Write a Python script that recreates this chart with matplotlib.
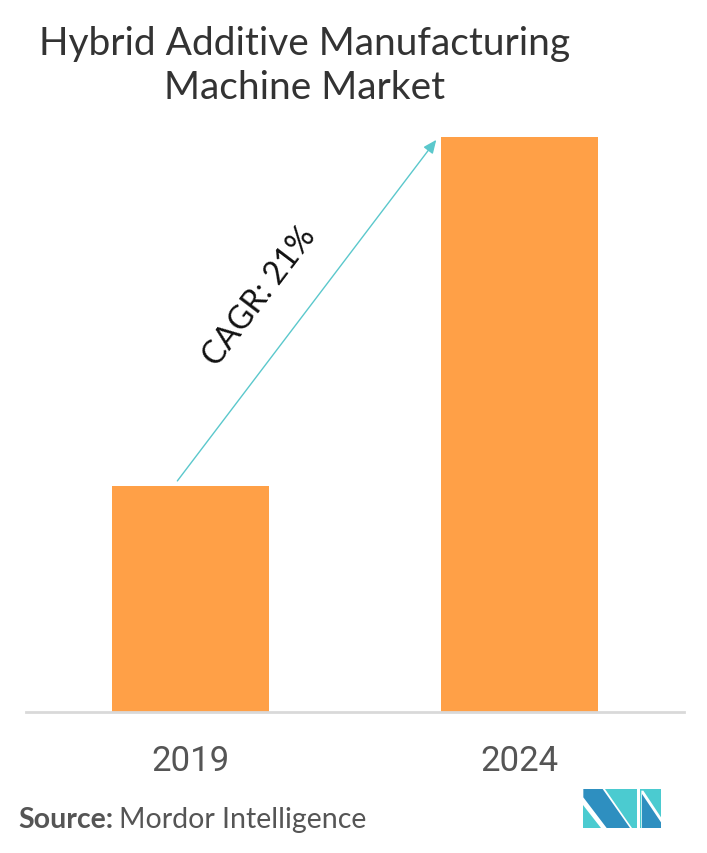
import matplotlib
matplotlib.use("Agg")
import matplotlib.pyplot as plt
from matplotlib import font_manager
from matplotlib.patches import Polygon

# ---- data ----
years = ["2019", "2024"]
values = [1.0, 2.55]          # relative market size
cagr_label = "CAGR: 21%"
title = "Hybrid Additive Manufacturing\nMachine Market"

W, H = 707, 854
fig = plt.figure(figsize=(W / 100, H / 100), dpi=100)
fig.patch.set_facecolor("white")

avail = {f.name for f in font_manager.fontManager.ttflist}
narrow = "Liberation Sans Narrow" if "Liberation Sans Narrow" in avail else "Roboto"

def fx(px):
    return px / W

def fy(py):
    return 1 - py / H

ax = fig.add_axes([fx(26), fy(712.7), fx(684) - fx(26), fy(130) - fy(712.7)])
x = list(range(len(years)))
ax.bar(x, values, width=0.48, color="#FFA047", zorder=2)
ax.set_xlim(-0.5, 1.5)
ax.set_ylim(0, max(values) * 582.7 / 574.7)
for s in ["top", "right", "left"]:
    ax.spines[s].set_visible(False)
ax.spines["bottom"].set_color("#d9d9d9")
ax.spines["bottom"].set_linewidth(2)
ax.set_yticks([])
ax.set_xticks(x)
ax.set_xticklabels(years, fontsize=25, color="#555555", family=narrow)
ax.tick_params(axis="x", length=0, pad=23)

# CAGR arrow
ax.annotate("", xy=(x[1] - 0.253, values[1] * 0.995), xytext=(x[0] - 0.04, values[0] * 1.024),
            arrowprops=dict(arrowstyle="-|>,head_length=0.8,head_width=0.35",
                            color="#5BC8CC", lw=1.0, shrinkA=0, shrinkB=0))
ax.text(0.212, 1.845, cagr_label, rotation=52.8, rotation_mode="anchor",
        ha="center", va="center", fontsize=23, color="#111111", family="Lato",
        fontweight="normal")

# title
fig.text(fx(305), fy(66), title, ha="center", va="center", fontsize=28,
         color="#333333", family="Lato", linespacing=1.25)

# source
t1 = fig.text(fx(18), fy(828), "Source:", ha="left", va="baseline", fontsize=20.5,
              color="#555555", family="Lato", fontweight="bold")
fig.canvas.draw()
r = fig.canvas.get_renderer()
bb = t1.get_window_extent(r)
fig.text(bb.x1 / W + fx(6), fy(828), "Mordor Intelligence", ha="left", va="baseline",
         fontsize=20.5, color="#555555", family="Lato")

# logo (pixel coords)
def logo_poly(pts, color):
    pts_f = [(fx(580 + zx / 3), fy(785 + zy / 3)) for zx, zy in pts]
    fig.patches.append(Polygon(pts_f, closed=True, transform=fig.transFigure,
                               facecolor=color, edgecolor="none"))

dark = "#2E8FC0"
teal = "#4BCBD0"
logo_poly([(10, 62), (10, 132), (62, 132)], teal)
logo_poly([(10, 15), (68, 15), (150, 132), (80, 132), (10, 40)], dark)
logo_poly([(76, 15), (172, 15), (172, 132), (157, 132)], teal)
logo_poly([(180, 15), (243, 15), (243, 100), (190, 20), (184, 20), (184, 132), (180, 132)], teal)
logo_poly([(186, 30), (243, 115), (243, 132), (186, 132)], dark)

fig.savefig("out.png", dpi=100, facecolor="white")
